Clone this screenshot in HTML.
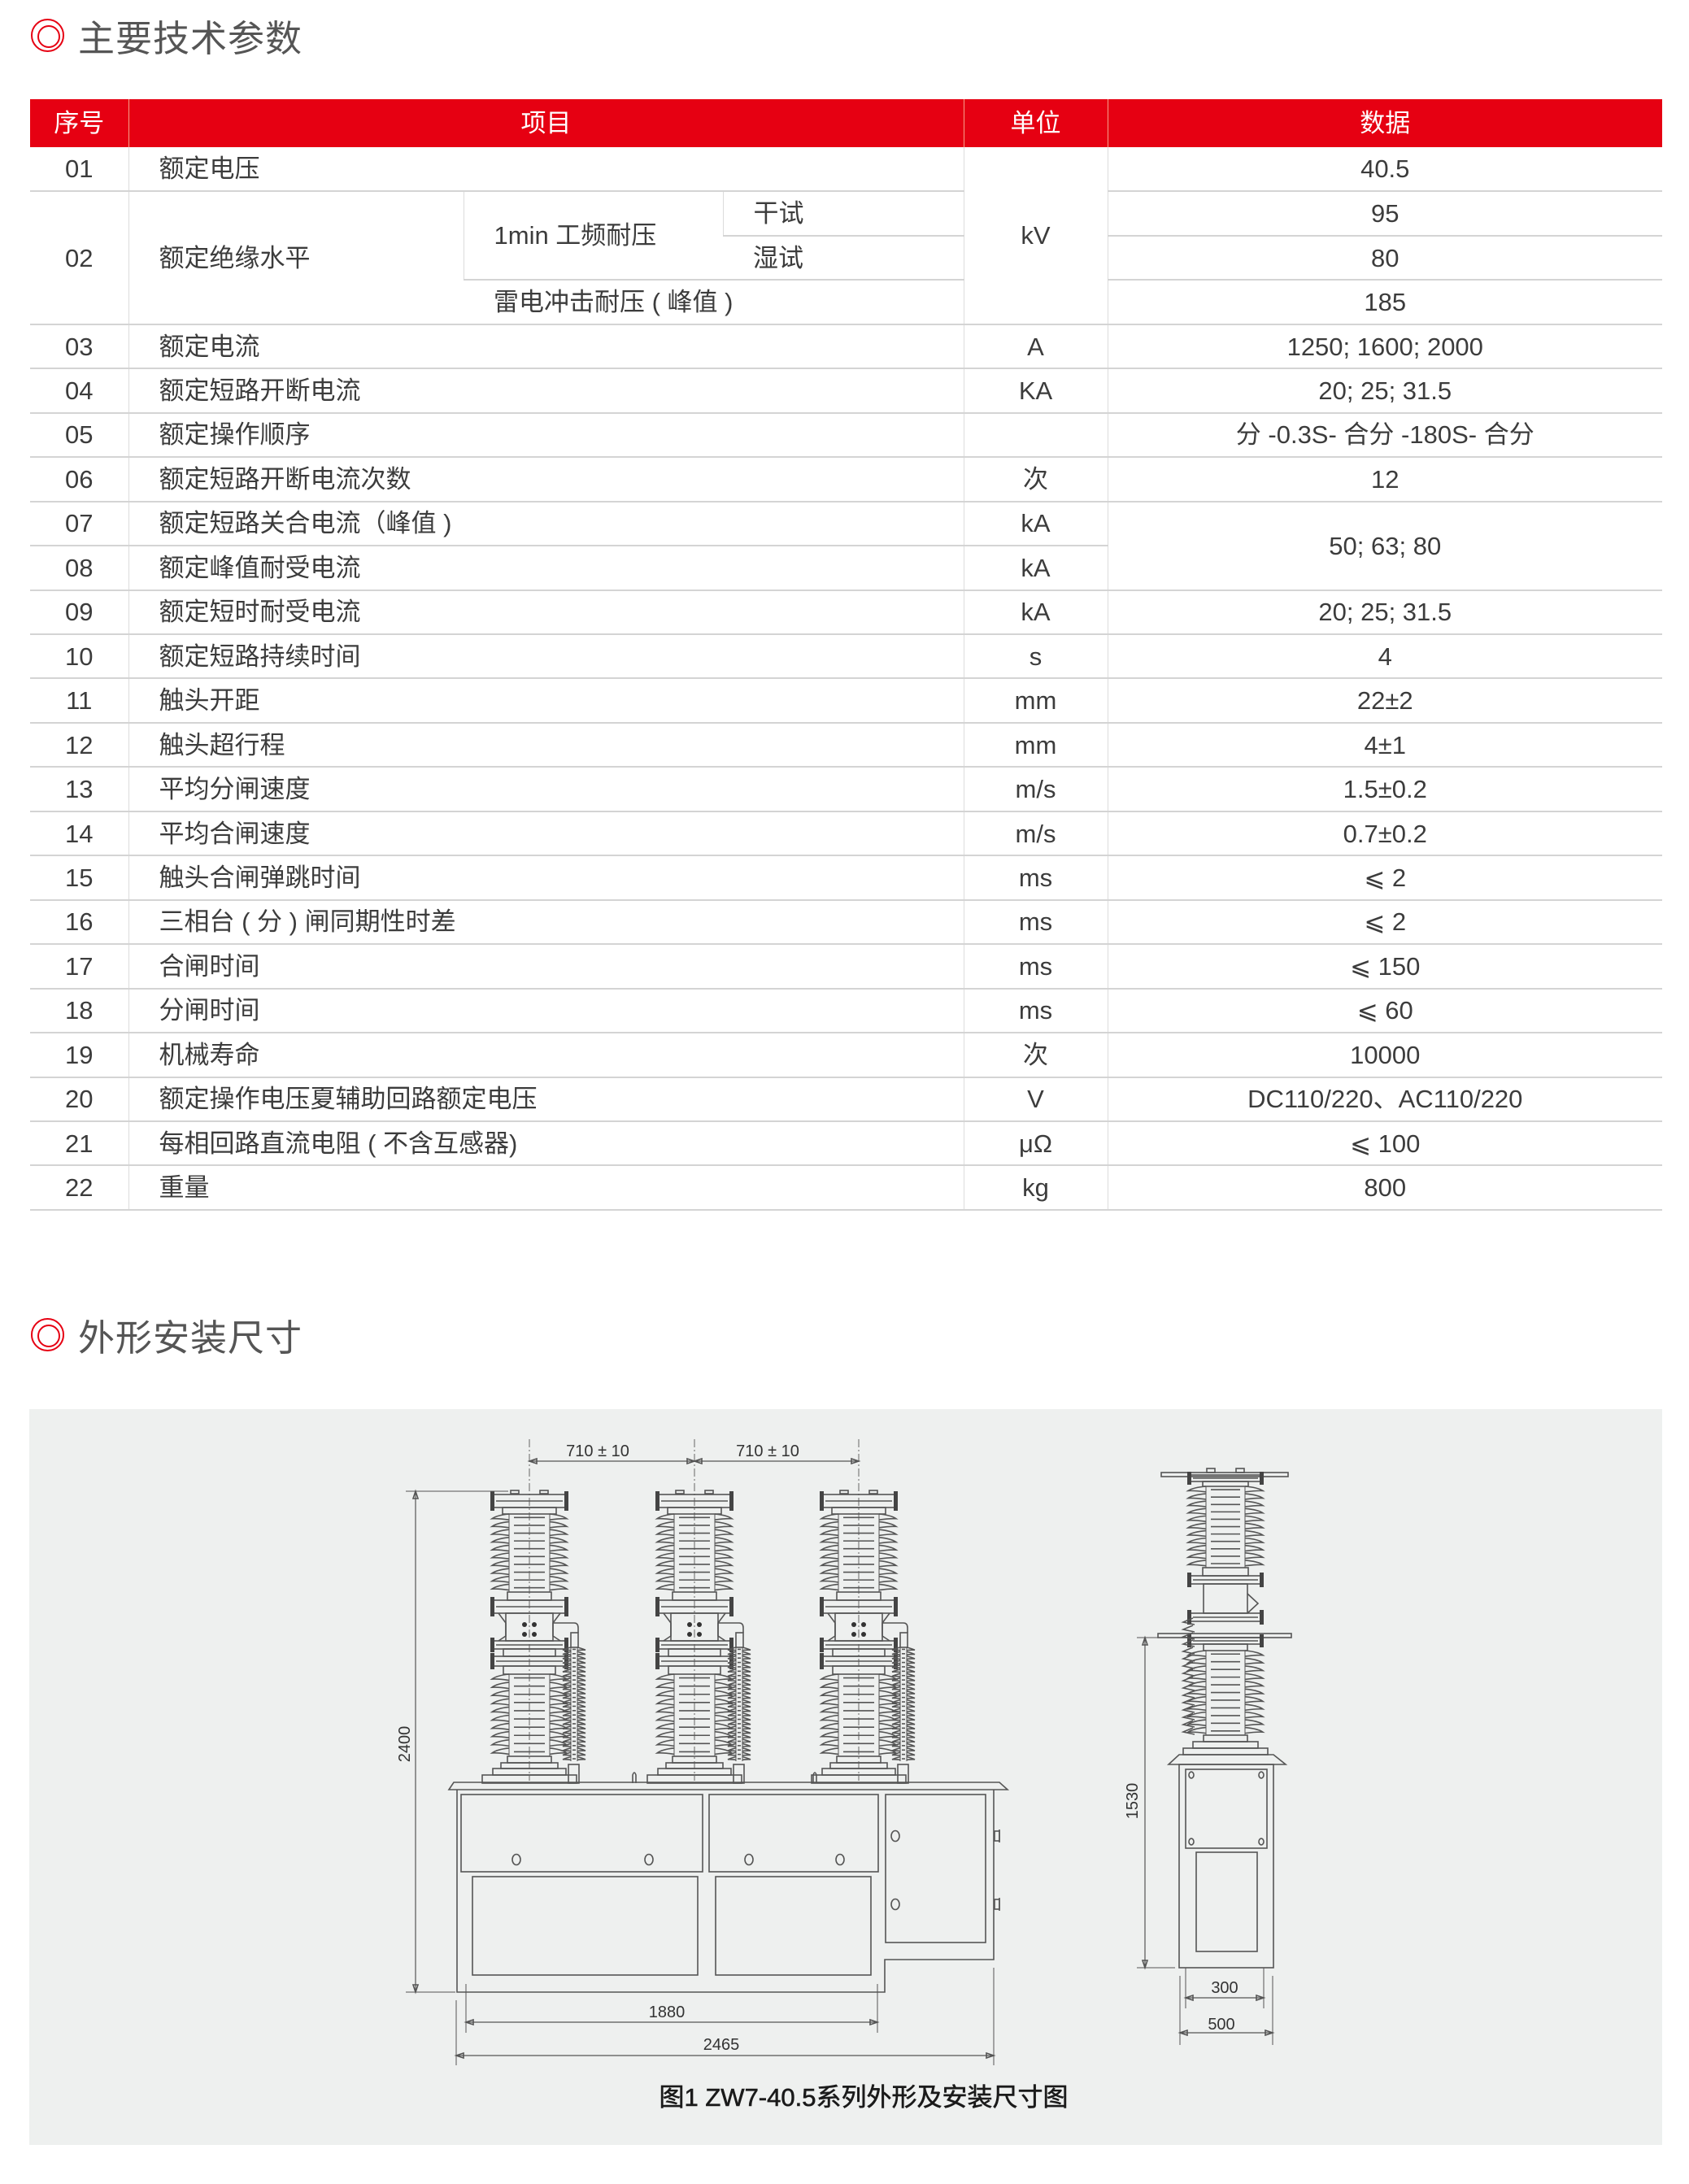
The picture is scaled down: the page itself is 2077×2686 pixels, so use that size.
<!DOCTYPE html>
<html><head><meta charset="utf-8">
<style>
*{margin:0;padding:0;box-sizing:border-box}
body{width:2077px;height:2686px;background:#fff;position:relative;overflow:hidden;font-family:"Liberation Sans","Noto Sans CJK SC",sans-serif;color:#3c3c3c}
.title{position:absolute;left:38px;height:44px;display:flex;align-items:center}
.ring{width:41px;height:41px;border:2.5px solid #e60012;border-radius:50%;position:relative;margin-right:17px}
.ring:after{content:"";position:absolute;left:6px;top:6px;width:24px;height:24px;border:2.5px solid #e60012;border-radius:50%}
.title span{font-size:45px;color:#555;letter-spacing:1px}
table{position:absolute;left:37px;top:122px;width:2007px;border-collapse:collapse;table-layout:fixed}
td,th{height:54.46px;font-size:31px;font-weight:normal;border-bottom:2px solid #d4d4d4;border-left:1px solid #dcdcdc;text-align:center;padding:0;line-height:1}
th{background:#e60012;color:#fff;height:59px;border-left:1px solid #f7a08a;border-bottom:none}
tr td:first-child,tr th:first-child{border-left:none}
td.l{text-align:left;padding-left:37px}
#box{position:absolute;left:36px;top:1733px;width:2008px;height:905px;background:#eef0ef}
svg{position:absolute;left:0;top:0}
</style></head><body>
<div class="title" style="top:21px"><div class="ring"></div><span>主要技术参数</span></div>
<table>
<colgroup><col style="width:121px"><col style="width:412px"><col style="width:319px"><col style="width:296px"><col style="width:177px"><col style="width:682px"></colgroup>
<tr><th>序号</th><th colspan="3">项目</th><th>单位</th><th>数据</th></tr>
<tr><td>01</td><td class="l" colspan="3">额定电压</td><td rowspan="4">kV</td><td>40.5</td></tr>
<tr><td rowspan="3">02</td><td class="l" rowspan="3">额定绝缘水平</td><td class="l" rowspan="2">1min 工频耐压</td><td class="l">干试</td><td>95</td></tr>
<tr><td class="l">湿试</td><td>80</td></tr>
<tr><td class="l" colspan="2">雷电冲击耐压 ( 峰值 )</td><td>185</td></tr>
<tr><td>03</td><td class="l" colspan="3">额定电流</td><td>A</td><td>1250; 1600; 2000</td></tr>
<tr><td>04</td><td class="l" colspan="3">额定短路开断电流</td><td>KA</td><td>20; 25; 31.5</td></tr>
<tr><td>05</td><td class="l" colspan="3">额定操作顺序</td><td></td><td>分 -0.3S- 合分 -180S- 合分</td></tr>
<tr><td>06</td><td class="l" colspan="3">额定短路开断电流次数</td><td>次</td><td>12</td></tr>
<tr><td>07</td><td class="l" colspan="3">额定短路关合电流（峰值 )</td><td>kA</td><td rowspan="2">50; 63; 80</td></tr>
<tr><td>08</td><td class="l" colspan="3">额定峰值耐受电流</td><td>kA</td></tr>
<tr><td>09</td><td class="l" colspan="3">额定短时耐受电流</td><td>kA</td><td>20; 25; 31.5</td></tr>
<tr><td>10</td><td class="l" colspan="3">额定短路持续时间</td><td>s</td><td>4</td></tr>
<tr><td>11</td><td class="l" colspan="3">触头开距</td><td>mm</td><td>22±2</td></tr>
<tr><td>12</td><td class="l" colspan="3">触头超行程</td><td>mm</td><td>4±1</td></tr>
<tr><td>13</td><td class="l" colspan="3">平均分闸速度</td><td>m/s</td><td>1.5±0.2</td></tr>
<tr><td>14</td><td class="l" colspan="3">平均合闸速度</td><td>m/s</td><td>0.7±0.2</td></tr>
<tr><td>15</td><td class="l" colspan="3">触头合闸弹跳时间</td><td>ms</td><td>⩽ 2</td></tr>
<tr><td>16</td><td class="l" colspan="3">三相台 ( 分 ) 闸同期性时差</td><td>ms</td><td>⩽ 2</td></tr>
<tr><td>17</td><td class="l" colspan="3">合闸时间</td><td>ms</td><td>⩽ 150</td></tr>
<tr><td>18</td><td class="l" colspan="3">分闸时间</td><td>ms</td><td>⩽ 60</td></tr>
<tr><td>19</td><td class="l" colspan="3">机械寿命</td><td>次</td><td>10000</td></tr>
<tr><td>20</td><td class="l" colspan="3">额定操作电压夏辅助回路额定电压</td><td>V</td><td>DC110/220、AC110/220</td></tr>
<tr><td>21</td><td class="l" colspan="3">每相回路直流电阻 ( 不含互感器)</td><td>μΩ</td><td>⩽ 100</td></tr>
<tr><td>22</td><td class="l" colspan="3">重量</td><td>kg</td><td>800</td></tr>
</table>
<div class="title" style="top:1619px"><div class="ring"></div><span>外形安装尺寸</span></div>
<div id="box"></div>
<svg id="d" width="2077" height="2686" viewBox="0 0 2077 2686" fill="none" stroke="#555" stroke-width="1.6">
<g font-family="Liberation Sans, sans-serif" font-size="20" fill="#333" stroke="none">
<text x="735" y="1791" text-anchor="middle">710 ± 10</text>
<text x="944" y="1791" text-anchor="middle">710 ± 10</text>
<text x="820" y="2481" text-anchor="middle">1880</text>
<text x="887" y="2521" text-anchor="middle">2465</text>
<text transform="translate(504 2145) rotate(-90)" text-anchor="middle">2400</text>
<text transform="translate(1399 2215) rotate(-90)" text-anchor="middle">1530</text>
<text x="1506" y="2451" text-anchor="middle">300</text>
<text x="1502" y="2496" text-anchor="middle">500</text>
</g>
<text x="1062" y="2590" text-anchor="middle" font-family="Liberation Sans, Noto Sans CJK SC, sans-serif" font-size="31" fill="#1a1a1a" stroke="#1a1a1a" stroke-width="0.6">图1  ZW7-40.5系列外形及安装尺寸图</text>
<g id="g"></g>
</svg>
<script>
var g=document.getElementById('g'),s='';
function L(a,b,c,d,w){s+='<line x1="'+a+'" y1="'+b+'" x2="'+c+'" y2="'+d+'"'+(w?' stroke-width="'+w+'"':'')+'/>';}
function R(x,y,w,h){s+='<rect x="'+x+'" y="'+y+'" width="'+w+'" height="'+h+'"/>';}
function C(x,y,r){s+='<ellipse cx="'+x+'" cy="'+y+'" rx="'+r+'" ry="'+(r*1.3)+'"/>';}
function P(d){s+='<path d="'+d+'"/>';}
function arrowH(x1,x2,y){L(x1,y,x2,y,1.2);P('M'+x1+' '+y+'l9 -3v6z');P('M'+x2+' '+y+'l-9 -3v6z');}
function arrowV(x,y1,y2){L(x,y1,x,y2,1.2);P('M'+x+' '+y1+'l-3 9h6z');P('M'+x+' '+y2+'l-3 -9h6z');}
function sheds(cx,y0,y1,n,hw,cw){var st=(y1-y0)/n;L(cx-cw,y0,cx-cw,y1,1);L(cx+cw,y0,cx+cw,y1,1);
for(var i=0;i<n;i++){var y=y0+i*st;
P('M'+(cx-cw)+' '+y+'Q'+(cx-hw+6)+' '+(y+st*0.15)+' '+(cx-hw)+' '+(y+st*0.6)+'Q'+(cx-hw+8)+' '+(y+st*0.55)+' '+(cx-cw)+' '+(y+st*0.75));
P('M'+(cx+cw)+' '+y+'Q'+(cx+hw-6)+' '+(y+st*0.15)+' '+(cx+hw)+' '+(y+st*0.6)+'Q'+(cx+hw-8)+' '+(y+st*0.55)+' '+(cx+cw)+' '+(y+st*0.75));
L(cx-cw+6,y+st*0.45,cx+cw-6,y+st*0.45);}}
function flange(cx,y,hw,h){R(cx-hw,y,hw*2,h);L(cx-hw+4,y+h/2,cx+hw-4,y+h/2);
s+='<rect x="'+(cx-hw-3)+'" y="'+(y-4)+'" width="5" height="'+(h+8)+'" fill="#444" stroke="none"/>';
s+='<rect x="'+(cx+hw-2)+'" y="'+(y-4)+'" width="5" height="'+(h+8)+'" fill="#444" stroke="none"/>';}
[651,854,1056].forEach(function(cx){
 s+='<line x1="'+cx+'" y1="1770" x2="'+cx+'" y2="2190" stroke="#666" stroke-width="1" stroke-dasharray="10 3 2 3"/>';
 R(cx-23,1833,10,4);R(cx+13,1833,10,4);
 flange(cx,1838,45,16);R(cx-33,1854,66,8);
 sheds(cx,1862,1958,10,46,25);
 R(cx-27,1958,54,10);flange(cx,1968,45,16);
 P('M'+(cx-38)+' 1984L'+(cx-29)+' 1996V2012L'+(cx-38)+' 2018M'+(cx+38)+' 1984L'+(cx+29)+' 1996V2012L'+(cx+38)+' 2018');
 R(cx-29,1984,58,34);
 [[-6,-6],[6,-6],[-6,6],[6,6]].forEach(function(p){s+='<circle cx="'+(cx+p[0])+'" cy="'+(2004+p[1])+'" r="3" fill="#333" stroke="none"/>';});
 flange(cx,2018,45,10);R(cx-32,2028,64,9);flange(cx,2037,45,12);
 R(cx-32,2049,64,10);
 sheds(cx,2059,2160,10,46,25);
 R(cx-27,2160,54,8);R(cx-35,2168,70,7);R(cx-45,2175,90,8);R(cx-58,2183,116,10);
 P('M'+(cx+29)+' 1996H'+(cx+55)+'Q'+(cx+60)+' 1996 '+(cx+60)+' 2002V2008');
 R(cx+51,2008,9,18);
 sheds(cx+55,2026,2166,26,14,4);
 R(cx+48,2170,13,23);
});
P('M778 2193v-10q2-6 4-0v10M1000 2193v-10q2-6 4-0v10');
P('M552 2201L558 2192H1229L1239 2201Z');
P('M562 2201V2450H1088V2410H1222V2201');
R(567,2207,297,95);R(872,2207,208,95);R(1089,2207,123,182);
R(581,2308,277,121);R(880,2308,191,121);
C(635,2287,5);C(798,2287,5);C(921,2287,5);C(1033,2287,5);C(1101,2258,5);C(1101,2342,5);
R(1223,2252,6,12);R(1223,2336,6,12);L(1229,2250,1229,2266);L(1229,2334,1229,2350);
arrowH(651,854,1797);arrowH(854,1056,1797);
L(499,1834,625,1834,1);L(499,2450,560,2450,1);arrowV(511,1834,2450);
L(573,2440,573,2500,1);L(1079,2440,1079,2500,1);arrowH(573,1079,2487);
L(561,2460,561,2540,1);L(1222,2420,1222,2540,1);arrowH(561,1222,2528);
var cx=1507;
R(1428,1811,156,5);R(1484,1806,10,5);R(1520,1806,10,5);
flange(cx,1814,44,8);R(cx-28,1822,56,6);
sheds(cx,1828,1928,11,46,24);
R(cx-28,1928,56,10);flange(cx,1938,44,10);R(cx-27,1948,54,36);
P('M'+(cx+27)+' 1960L'+(cx+40)+' 1972L'+(cx+27)+' 1984');
flange(cx,1984,44,10);R(1424,2009,164,5);flange(cx,2014,44,8);
R(cx-27,2022,54,8);
sheds(cx,2030,2134,11,46,24);
for(var i=0;i<16;i++){var y=1990+i*9;P('M'+(cx-40)+' '+y+'l-12 5l14 3');}
R(cx-27,2134,54,8);R(cx-40,2142,80,8);R(cx-52,2150,104,8);
P('M1437 2170L1450 2158H1566L1581 2170Z');
R(1450,2170,116,250);R(1458,2176,100,97);R(1471,2278,75,122);
C(1465,2183,3);C(1551,2183,3);C(1465,2265,3);C(1551,2265,3);
L(1398,2014,1425,2014,1);L(1398,2420,1445,2420,1);arrowV(1408,2014,2420);
L(1458,2420,1458,2470,1);L(1554,2420,1554,2470,1);arrowH(1458,1554,2457);
L(1451,2430,1451,2515,1);L(1565,2430,1565,2515,1);arrowH(1451,1565,2500);
g.innerHTML=s;
</script>
</body></html>
